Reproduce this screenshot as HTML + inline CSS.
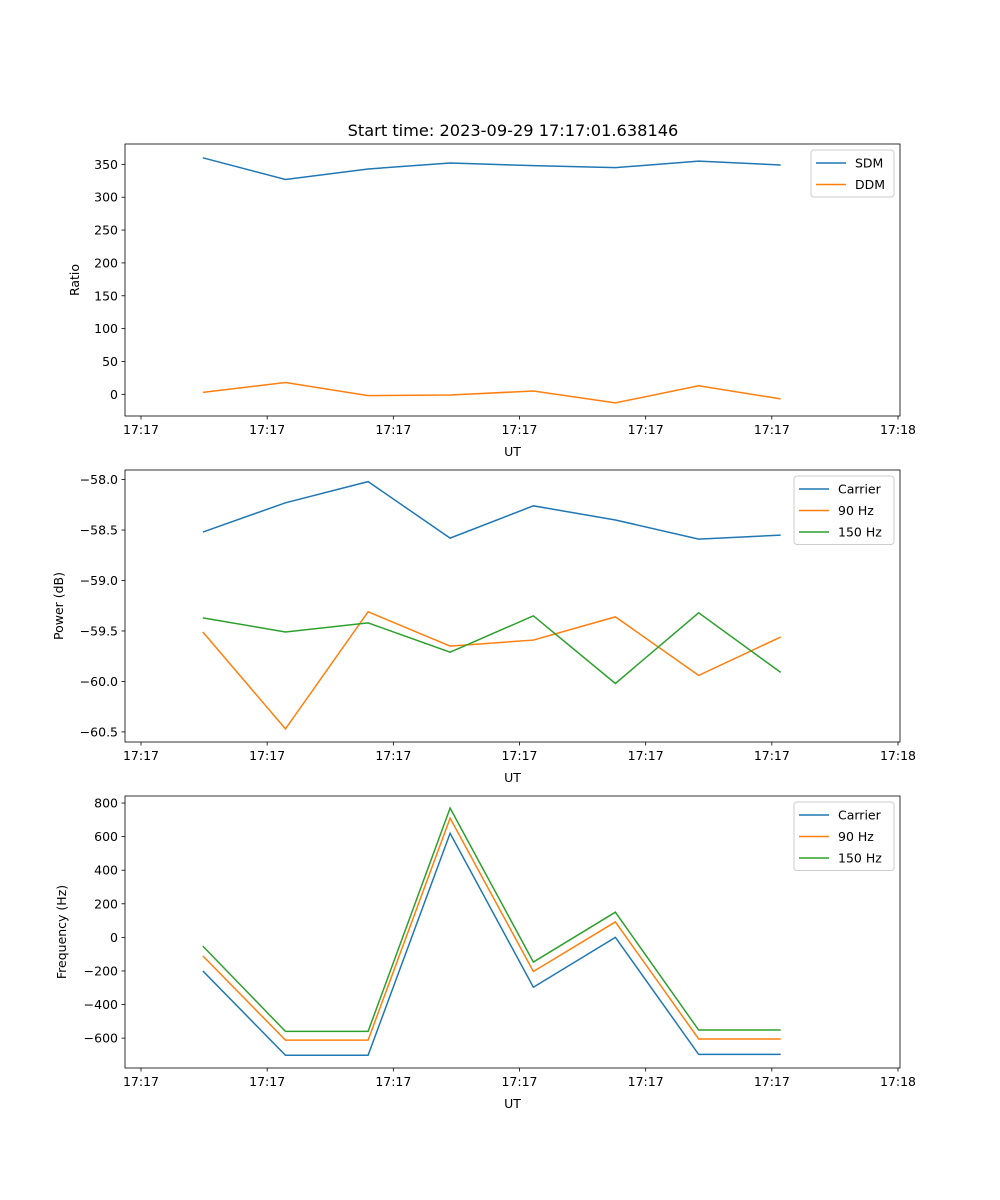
<!DOCTYPE html>
<html><head><meta charset="utf-8"><style>
body{margin:0;background:#fff}
svg{display:block;font-family:"DejaVu Sans","Liberation Sans",sans-serif}
</style></head><body>
<svg id="fig" width="1000" height="1200" xmlns="http://www.w3.org/2000/svg">
<text x="513" y="136" font-size="16.2" text-anchor="middle">Start time: 2023-09-29 17:17:01.638146</text>
</svg>
<script>
const times = [4.9, 11.45, 18.0, 24.5, 31.1, 37.6, 44.2, 50.7];
const xTicks = [0, 10, 20, 30, 40, 50, 60];
const xTickLabels = ["17:17","17:17","17:17","17:17","17:17","17:17","17:18"];
const sdm = [360, 327, 343, 352, 348, 345, 355, 349];
const ddm = [3, 18, -2, -1, 5, -13, 13, -7];
const ratioTicks = [0, 50, 100, 150, 200, 250, 300, 350];
const powCarrier = [-58.52, -58.23, -58.02, -58.58, -58.26, -58.40, -58.59, -58.55];
const pow90 = [-59.51, -60.47, -59.31, -59.65, -59.59, -59.36, -59.94, -59.56];
const pow150 = [-59.37, -59.51, -59.42, -59.71, -59.35, -60.02, -59.32, -59.91];
const powTicks = [-60.5, -60.0, -59.5, -59.0, -58.5, -58.0];
const freqCarrier = [-200, -702, -702, 620, -297, 0, -697, -697];
const freq90 = [-110, -612, -612, 710, -203, 92, -605, -605];
const freq150 = [-52, -560, -560, 770, -147, 150, -552, -552];
const freqTicks = [-600, -400, -200, 0, 200, 400, 600, 800];

const NS = "http://www.w3.org/2000/svg";
const svg = document.getElementById("fig");
function mk(tag, attrs, parent){const e=document.createElementNS(NS,tag);for(const k in attrs)e.setAttribute(k,attrs[k]);(parent||svg).appendChild(e);return e;}
const L=125,R=900;
const xs = t => 141 + (898-141)*t/60;

function panel(top, bottom, ymin, ymax, ticks, tickFmt, ylabel, series, legW, pname){
  const g = mk("g",{});
  
  
  const ys = v => bottom - (v - ymin)/(ymax - ymin)*(bottom-top);
  series.forEach(s=>{
    const p = mk("polyline",{points:s.data.map((v,i)=>xs(times[i])+","+ys(v)).join(" "),fill:"none",stroke:s.color,"stroke-width":1.5},g);
    
    
  });
  const fr = mk("rect",{x:L,y:top,width:R-L,height:bottom-top,fill:"none",stroke:"#000","stroke-width":0.8},g);
  
  
  xTicks.forEach((t,i)=>{
    mk("line",{x1:xs(t),x2:xs(t),y1:bottom,y2:bottom+3.5,stroke:"#000","stroke-width":0.8},g);
    const tx = mk("text",{x:xs(t),y:bottom+18,"font-size":12.5,"text-anchor":"middle"},g);
    tx.textContent = xTickLabels[i];
    
    
  });
  const xl = mk("text",{x:(L+R)/2,y:bottom+40,"font-size":12.5,"text-anchor":"middle"},g);
  xl.textContent="UT";
  
  
  ticks.forEach(v=>{
    const y=ys(v);
    mk("line",{x1:L-3.5,x2:L,y1:y,y2:y,stroke:"#000","stroke-width":0.8},g);
    const tx=mk("text",{x:L-7,y:y+4.5,"font-size":12.5,"text-anchor":"end"},g);
    tx.textContent=tickFmt(v);
    
    
  });
  const yl=mk("text",{x:0,y:0,"font-size":12.5,"text-anchor":"middle",transform:`translate(${ylabel.x},${(top+bottom)/2}) rotate(-90)`},g);
  yl.textContent=ylabel.text;
  
  
  const lg=mk("g",{},g);
  
  
  const lx=R-6-legW, ly=top+6;
  mk("rect",{x:lx,y:ly,width:legW,height:4+series.length*21.5,rx:3,fill:"#fff",stroke:"#ccc","stroke-width":1},lg);
  series.forEach((s,i)=>{
    const yy=ly+13+i*21.5;
    mk("line",{x1:lx+5,x2:lx+35,y1:yy,y2:yy,stroke:s.color,"stroke-width":1.5},lg);
    const t=mk("text",{x:lx+44,y:yy+4.5,"font-size":12.5},lg);
    t.textContent=s.label;
    
    
  });
}
const neg = s => s.replace("-","\u2212");
panel(144,416,-33,381,ratioTicks,v=>neg(String(v)),{x:79,text:"Ratio"},
 [{id:"sdm",label:"SDM",color:"#1f77b4",data:sdm},{id:"ddm",label:"DDM",color:"#ff7f0e",data:ddm}],83,"ratio-panel");
panel(470,742,-60.6,-57.905,powTicks,v=>neg(v.toFixed(1)),{x:63,text:"Power (dB)"},
 [{id:"carrier",label:"Carrier",color:"#1f77b4",data:powCarrier},{id:"90hz",label:"90 Hz",color:"#ff7f0e",data:pow90},{id:"150hz",label:"150 Hz",color:"#2ca02c",data:pow150}],100,"power-panel");
panel(796,1068,-778,842,freqTicks,v=>neg(String(v)),{x:66,text:"Frequency (Hz)"},
 [{id:"carrier",label:"Carrier",color:"#1f77b4",data:freqCarrier},{id:"90hz",label:"90 Hz",color:"#ff7f0e",data:freq90},{id:"150hz",label:"150 Hz",color:"#2ca02c",data:freq150}],100,"frequency-panel");
</script>
</body></html>
